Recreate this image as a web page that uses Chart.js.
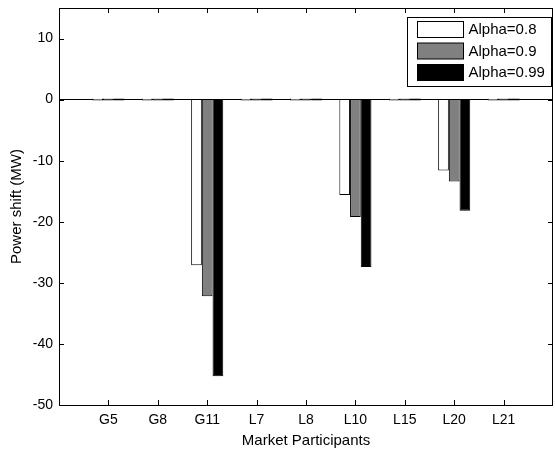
<!DOCTYPE html>
<html>
<head>
<meta charset="utf-8">
<script src="https://cdn.jsdelivr.net/npm/chart.js@4.4.1/dist/chart.umd.min.js"></script>
<style>
  html, body { margin: 0; padding: 0; background: #fff; }
  #wrap { width: 555px; height: 450px; }
</style>
</head>
<body>
<div id="wrap"><canvas id="c" width="555" height="450"></canvas></div>
<script>
// 카테고리 (시장 참여자)
const participants = ['G5', 'G8', 'G11', 'L7', 'L8', 'L10', 'L15', 'L20', 'L21'];

// 알파 값별 전력 이동량 (MW)
const alpha08  = [0, 0, -27.1, 0, 0, -15.6, 0, -11.6, 0];
const alpha09  = [0, 0, -32.2, 0, 0, -19.2, 0, -13.4, 0];
const alpha099 = [0, 0, -45.3, 0, 0, -27.4, 0, -18.2, 0];

const seriesNames = ['Alpha=0.8', 'Alpha=0.9', 'Alpha=0.99'];
const yTicks = [-50, -40, -30, -20, -10, 0, 10];

const FONT = 'Liberation Sans, Arial, Helvetica, sans-serif';

// 양 끝에 빈 칸을 넣어서 MATLAB처럼 축 가장자리에 여백을 둡니다
const labels = [''].concat(participants, ['']);
const pad = arr => [null].concat(arr, [null]);

// 안쪽 눈금 + 박스 테두리
const boxTicks = {
    id: 'boxTicks',
    afterDatasetsDraw(chart) {
        const { ctx, chartArea: a, scales } = chart;
        const L = 5;
        ctx.save();
        ctx.strokeStyle = '#000';
        ctx.lineWidth = 1;
        ctx.beginPath();
        participants.forEach((p, i) => {
            const x = Math.round(scales.x.getPixelForValue(i + 1)) + 0.5;
            ctx.moveTo(x, a.bottom); ctx.lineTo(x, a.bottom - L);
            ctx.moveTo(x, a.top); ctx.lineTo(x, a.top + L);
        });
        yTicks.forEach(v => {
            const y = Math.round(scales.y.getPixelForValue(v)) + 0.5;
            ctx.moveTo(a.left, y); ctx.lineTo(a.left + L, y);
            ctx.moveTo(a.right, y); ctx.lineTo(a.right - L, y);
        });
        ctx.stroke();
        ctx.strokeRect(Math.round(a.left) + 0.5, Math.round(a.top) + 0.5,
            Math.round(a.right - a.left) - 1, Math.round(a.bottom - a.top));
        ctx.restore();
    }
};

// 오른쪽 위 범례 상자
const boxLegend = {
    id: 'boxLegend',
    afterDraw(chart) {
        const { ctx, chartArea: a } = chart;
        const w = 144, h = 69;
        const x0 = Math.round(a.right - w) - 1.5, y0 = Math.round(a.top) + 9.5;
        ctx.save();
        ctx.fillStyle = '#fff';
        ctx.fillRect(x0, y0, w, h);
        ctx.strokeStyle = '#000';
        ctx.lineWidth = 1;
        ctx.strokeRect(x0, y0, w, h);
        ctx.font = '15px ' + FONT;
        ctx.textBaseline = 'middle';
        chart.data.datasets.forEach((ds, i) => {
            const sy = y0 + 4 + i * 21.5;
            ctx.fillStyle = ds.backgroundColor;
            ctx.fillRect(x0 + 10, sy, 46, 16);
            ctx.strokeStyle = '#000';
            ctx.strokeRect(x0 + 10, sy, 46, 16);
            ctx.fillStyle = '#000';
            ctx.fillText(ds.label, x0 + 61, sy + 8.5);
        });
        ctx.restore();
    }
};

new Chart(document.getElementById('c'), {
    type: 'bar',
    data: {
        labels,
        datasets: [
            { label: seriesNames[0], data: pad(alpha08),  backgroundColor: '#ffffff', borderColor: '#000', borderWidth: 1 },
            { label: seriesNames[1], data: pad(alpha09),  backgroundColor: '#808080', borderColor: '#000', borderWidth: 1 },
            { label: seriesNames[2], data: pad(alpha099), backgroundColor: '#000000', borderColor: '#000', borderWidth: 1 }
        ]
    },
    options: {
        responsive: false,
        animation: false,
        devicePixelRatio: 1,
        categoryPercentage: 0.65,
        barPercentage: 1,
        minBarLength: 2,
        layout: { padding: { top: 8, right: 2, left: 0, bottom: 0 } },
        plugins: { legend: { display: false }, tooltip: { enabled: false } },
        scales: {
            x: {
                offset: false,
                grid: { display: false, drawTicks: false },
                border: { display: false },
                ticks: { autoSkip: false, maxRotation: 0, padding: 7, color: '#000', font: { family: FONT, size: 14 } },
                title: { display: true, text: 'Market Participants', color: '#000', font: { family: FONT, size: 15 }, padding: { top: 0, bottom: 0 } },
                afterFit(scale) {
                    scale.height = 45;
                    scale.paddingLeft = 0;
                    scale.paddingRight = 0;
                }
            },
            y: {
                min: -50, max: 15,
                afterBuildTicks(scale) { scale.ticks = yTicks.map(v => ({ value: v })); },
                grid: {
                    drawTicks: false,
                    color: ctx => (ctx.tick && ctx.tick.value === 0) ? '#000' : 'rgba(0,0,0,0)'
                },
                border: { display: false },
                ticks: { padding: 6, color: '#000', font: { family: FONT, size: 14 } },
                title: { display: true, text: 'Power shift (MW)', color: '#000', font: { family: FONT, size: 15 }, padding: { top: 8, bottom: 0 } },
                afterFit(scale) {
                    scale.width = 59;
                    scale.paddingTop = 0;
                    scale.paddingBottom = 0;
                }
            }
        }
    },
    plugins: [boxTicks, boxLegend]
});
</script>
</body>
</html>
